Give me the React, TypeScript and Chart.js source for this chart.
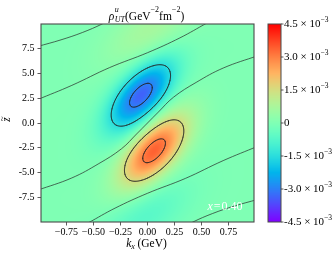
import React, { useEffect, useRef } from 'react';
import { Chart, registerables } from 'chart.js';
Chart.register(...registerables);

// ---- axes ----
const kxRange = [-0.985, 0.985];
const zRange = [-10, 10];
const xTicks = [-0.75, -0.5, -0.25, 0, 0.25, 0.5, 0.75];
const yTicks = [-7.5, -5, -2.5, 0, 2.5, 5, 7.5];

// ---- colour bar ----
const vmin = -4.5e-3;
const vmax = 4.5e-3;
const cbarTicks = [-4.5e-3, -3.0e-3, -1.5e-3, 0, 1.5e-3, 3.0e-3, 4.5e-3];
const cbarLabels = ['-4.5', '-3.0', '-1.5', '0', '1.5', '3.0', '4.5'];
const contourLevels = [-3.0e-3, -1.5e-3, 1.5e-3, 3.0e-3];

// ---- density lobes ----
const lobeK = [-0.06, 0.06, 0.03, -0.03];
const lobeZ = [2.8, -2.8, 9.4, -9.4];
const lobeAmp = [-3.4e-3, 3.4e-3, 0.7e-3, -0.7e-3];
const lobeSigK = [0.216, 0.216, 0.3, 0.3];
const lobeSigZ = [2.53, 2.53, 2.6, 2.6];
const lobeRho = [0.62, 0.62, 0.6, 0.6];

// ---- zero-level contour lines (kx, z) ----
const zeroLineA = [[-1.02, 7.72], [-0.8, 8.4], [-0.6, 9.15], [-0.42, 10.0], [-0.36, 10.4]];
const zeroLineB = [[-1.02, 2.35], [-0.7, 3.8], [-0.35, 5.6], [0, 7.1], [0.3, 8.6], [0.55, 10.1], [0.62, 10.5]];
const zeroLineC = [[-1.02, -6.8], [-0.7, -5.55], [-0.45, -4.1], [-0.24, -2.6], [-0.1, -1.1], [0, 0], [0.1, 1.1], [0.24, 2.6], [0.45, 4.1], [0.7, 5.55], [1.02, 6.8]];
const zeroLineD = [[1.02, -2.35], [0.7, -3.8], [0.35, -5.6], [0, -7.1], [-0.3, -8.6], [-0.55, -10.1], [-0.62, -10.5]];
const zeroLineE = [[1.02, -7.72], [0.8, -8.4], [0.6, -9.15], [0.42, -10.0], [0.36, -10.4]];

const SERIF = '"Liberation Serif", "DejaVu Serif", serif';
const LINE_COLOR = 'rgba(35,35,35,0.85)';

function field(k: number, z: number): number {
  let s = 0;
  for (let i = 0; i < lobeK.length; i++) {
    const a = (k - lobeK[i]) / lobeSigK[i];
    const b = (z - lobeZ[i]) / lobeSigZ[i];
    const r = lobeRho[i];
    const q = (a * a - 2 * r * a * b + b * b) / (1 - r * r);
    s += lobeAmp[i] * Math.exp(-0.5 * q);
  }
  return s;
}

function rainbow(t: number): [number, number, number] {
  t = Math.max(0, Math.min(1, t));
  const r = Math.min(1, Math.abs(2 * t - 0.5));
  const g = Math.max(0, Math.sin(Math.PI * t));
  const b = Math.max(0, Math.cos((Math.PI * t) / 2));
  return [Math.round(r * 255), Math.round(g * 255), Math.round(b * 255)];
}

type Piece = { t: string; font: string; dy?: number; stack?: boolean; gap?: number };

function piecesWidth(ctx: CanvasRenderingContext2D, pieces: Piece[]) {
  let w = 0;
  for (const p of pieces) {
    ctx.font = p.font;
    if (!p.stack) w += ctx.measureText(p.t).width + (p.gap || 0);
  }
  return w;
}

function drawPieces(ctx: CanvasRenderingContext2D, pieces: Piece[], x0: number, baseline: number) {
  let x = x0;
  for (const p of pieces) {
    ctx.font = p.font;
    ctx.fillText(p.t, x, baseline + (p.dy || 0));
    if (!p.stack) x += ctx.measureText(p.t).width + (p.gap || 0);
  }
}

const heatmapPlugin = {
  id: 'heatmap',
  beforeDatasetsDraw(chart: any) {
    const { ctx, chartArea: ca, scales } = chart;
    const xs = scales.x;
    const ys = scales.y;
    const left = Math.round(ca.left);
    const top = Math.round(ca.top);
    const w = Math.round(ca.right) - left;
    const h = Math.round(ca.bottom) - top;
    const img = ctx.createImageData(w, h);
    for (let py = 0; py < h; py++) {
      const z = ys.getValueForPixel(top + py + 0.5);
      for (let px = 0; px < w; px++) {
        const k = xs.getValueForPixel(left + px + 0.5);
        const v = field(k, z);
        const [r, g, b] = rainbow((v - vmin) / (vmax - vmin));
        const o = (py * w + px) * 4;
        img.data[o] = r;
        img.data[o + 1] = g;
        img.data[o + 2] = b;
        img.data[o + 3] = 255;
      }
    }
    ctx.putImageData(img, left, top);

    // contour lines of the field (marching squares)
    const N = 180;
    const M = 180;
    const ks: number[] = [];
    const zs: number[] = [];
    for (let i = 0; i <= N; i++) ks.push(kxRange[0] + ((kxRange[1] - kxRange[0]) * i) / N);
    for (let j = 0; j <= M; j++) zs.push(zRange[0] + ((zRange[1] - zRange[0]) * j) / M);
    const vals: number[][] = [];
    for (let j = 0; j <= M; j++) {
      const row: number[] = [];
      for (let i = 0; i <= N; i++) row.push(field(ks[i], zs[j]));
      vals.push(row);
    }
    ctx.save();
    ctx.beginPath();
    ctx.rect(ca.left, ca.top, ca.right - ca.left, ca.bottom - ca.top);
    ctx.clip();
    ctx.strokeStyle = LINE_COLOR;
    ctx.lineWidth = 0.8;
    ctx.lineCap = 'round';
    for (const L of contourLevels) {
      ctx.beginPath();
      for (let j = 0; j < M; j++) {
        for (let i = 0; i < N; i++) {
          const c = [
            [ks[i], zs[j], vals[j][i]],
            [ks[i + 1], zs[j], vals[j][i + 1]],
            [ks[i + 1], zs[j + 1], vals[j + 1][i + 1]],
            [ks[i], zs[j + 1], vals[j + 1][i]],
          ];
          const pts: number[][] = [];
          for (let e = 0; e < 4; e++) {
            const a = c[e];
            const b = c[(e + 1) % 4];
            if ((a[2] - L) * (b[2] - L) < 0) {
              const t = (L - a[2]) / (b[2] - a[2]);
              pts.push([a[0] + (b[0] - a[0]) * t, a[1] + (b[1] - a[1]) * t]);
            }
          }
          for (let p = 0; p + 1 < pts.length; p += 2) {
            ctx.moveTo(xs.getPixelForValue(pts[p][0]), ys.getPixelForValue(pts[p][1]));
            ctx.lineTo(xs.getPixelForValue(pts[p + 1][0]), ys.getPixelForValue(pts[p + 1][1]));
          }
        }
      }
      ctx.stroke();
    }
    ctx.restore();
  },
};

const decorPlugin = {
  id: 'decor',
  afterDraw(chart: any) {
    const { ctx, chartArea: ca } = chart;
    ctx.save();
    // frame
    ctx.strokeStyle = '#4a4a4a';
    ctx.lineWidth = 1.1;
    ctx.strokeRect(ca.left, ca.top, ca.right - ca.left, ca.bottom - ca.top);

    // colour bar
    const cbL = 268;
    const cbR = 281;
    const cbT = ca.top;
    const cbB = ca.bottom;
    const cbH = cbB - cbT;
    for (let py = Math.floor(cbT); py < cbB; py++) {
      const t = (cbB - (py + 0.5)) / cbH;
      const [r, g, b] = rainbow(t);
      ctx.fillStyle = `rgb(${r},${g},${b})`;
      ctx.fillRect(cbL, py, cbR - cbL, 1);
    }
    ctx.strokeStyle = '#4a4a4a';
    ctx.lineWidth = 1;
    ctx.strokeRect(cbL, cbT, cbR - cbL, cbH);
    ctx.fillStyle = '#000';
    ctx.textBaseline = 'middle';
    ctx.textAlign = 'left';
    cbarTicks.forEach((v, i) => {
      const y = cbB - ((v - vmin) / (vmax - vmin)) * cbH;
      ctx.beginPath();
      ctx.moveTo(cbR, y);
      ctx.lineTo(cbR + 2.5, y);
      ctx.strokeStyle = '#333';
      ctx.lineWidth = 0.8;
      ctx.stroke();
      const pieces: Piece[] =
        v === 0
          ? [{ t: '0', font: `11px ${SERIF}` }]
          : [
              { t: `${cbarLabels[i]} \u00d7 10`, font: `11px ${SERIF}` },
              { t: '\u22123', font: `7.5px ${SERIF}`, dy: -4.5 },
            ];
      drawPieces(ctx, pieces, cbR + 3, y + 0.5);
    });

    // title
    ctx.textBaseline = 'alphabetic';
    const big = `11.5px ${SERIF}`;
    const bigI = `italic 11.5px ${SERIF}`;
    const sm = `8px ${SERIF}`;
    const smI = `italic 8px ${SERIF}`;
    const title: Piece[] = [
      { t: '\u03c1', font: bigI, gap: 0.5 },
      { t: 'u', font: smI, dy: -7.5, stack: true },
      { t: 'UT', font: smI, dy: 2.5 },
      { t: '(GeV', font: big },
      { t: '\u22122', font: sm, dy: -8 },
      { t: 'fm', font: big },
      { t: '\u22122', font: sm, dy: -8 },
      { t: ')', font: big },
    ];
    const cx = (ca.left + ca.right) / 2 - 1;
    drawPieces(ctx, title, cx - piecesWidth(ctx, title) / 2, 19.5);

    // x label
    const xl: Piece[] = [
      { t: 'k', font: bigI },
      { t: 'x', font: smI, dy: 2.5, gap: 2.5 },
      { t: '(GeV)', font: big },
    ];
    drawPieces(ctx, xl, cx - piecesWidth(ctx, xl) / 2, 246.5);

    // y label (rotated z with tilde)
    ctx.save();
    ctx.translate(10, 119.5);
    ctx.rotate(-Math.PI / 2);
    ctx.textAlign = 'center';
    ctx.font = bigI;
    ctx.fillText('z', 0, 0);
    ctx.font = `9px ${SERIF}`;
    ctx.fillText('~', 0.8, -5.2);
    ctx.restore();

    // annotation
    ctx.fillStyle = '#ffffff';
    const ann: Piece[] = [
      { t: 'x', font: `italic 12px ${SERIF}`, gap: 1 },
      { t: '=', font: `12px ${SERIF}`, gap: 1 },
      { t: '0.40', font: `12px ${SERIF}` },
    ];
    drawPieces(ctx, ann, 207.5, 209.5);
    ctx.restore();
  },
};

function toXY(arr: number[][]) {
  return arr.map(([k, z]) => ({ x: k, y: z }));
}

export default function App() {
  const ref = useRef<HTMLCanvasElement>(null);
  useEffect(() => {
    document.body.style.margin = '0';
    const lines = [zeroLineA, zeroLineB, zeroLineC, zeroLineD, zeroLineE];
    const chart = new Chart(ref.current as HTMLCanvasElement, {
      type: 'scatter',
      data: {
        datasets: lines.map((l) => ({
          data: toXY(l),
          showLine: true,
          borderColor: LINE_COLOR,
          borderWidth: 0.8,
          pointRadius: 0,
          tension: 0.4,
          fill: false,
        })),
      },
      options: {
        responsive: false,
        animation: false,
        devicePixelRatio: 1,
        events: [],
        layout: { padding: { top: 24, right: 81, left: 0, bottom: 0 } },
        plugins: { legend: { display: false }, tooltip: { enabled: false }, title: { display: false } },
        scales: {
          x: {
            type: 'linear',
            min: kxRange[0],
            max: kxRange[1],
            afterFit: (s: any) => {
              s.height = 36;
            },
            afterBuildTicks: (s: any) => {
              s.ticks = xTicks.map((v) => ({ value: v }));
            },
            ticks: {
              autoSkip: false,
              maxRotation: 0,
              padding: 1,
              color: '#000',
              font: { family: SERIF, size: 10 },
              callback: (v: any) => (Number(v) < 0 ? '\u2212' + Math.abs(Number(v)).toFixed(2) : Math.abs(Number(v)).toFixed(2)),
            },
            grid: { drawOnChartArea: false, drawTicks: true, tickLength: 3.5, tickColor: '#333', tickWidth: 0.8 },
            border: { display: false },
          },
          y: {
            type: 'linear',
            min: zRange[0],
            max: zRange[1],
            afterFit: (s: any) => {
              s.width = 41;
            },
            afterBuildTicks: (s: any) => {
              s.ticks = yTicks.map((v) => ({ value: v }));
            },
            ticks: {
              autoSkip: false,
              padding: 3,
              color: '#000',
              font: { family: SERIF, size: 10 },
              callback: (v: any) => (Number(v) < 0 ? '-' + Math.abs(Number(v)).toFixed(1) : Math.abs(Number(v)).toFixed(1)),
            },
            grid: { drawOnChartArea: false, drawTicks: true, tickLength: 3.5, tickColor: '#333', tickWidth: 0.8 },
            border: { display: false },
          },
        },
      },
      plugins: [heatmapPlugin, decorPlugin],
    } as any);
    return () => chart.destroy();
  }, []);
  return (
    <div style={{ position: 'absolute', left: 0, top: 0, width: 335, height: 258, background: '#fff' }}>
      <canvas ref={ref} width={335} height={258} style={{ display: 'block', width: 335, height: 258 }} />
    </div>
  );
}
